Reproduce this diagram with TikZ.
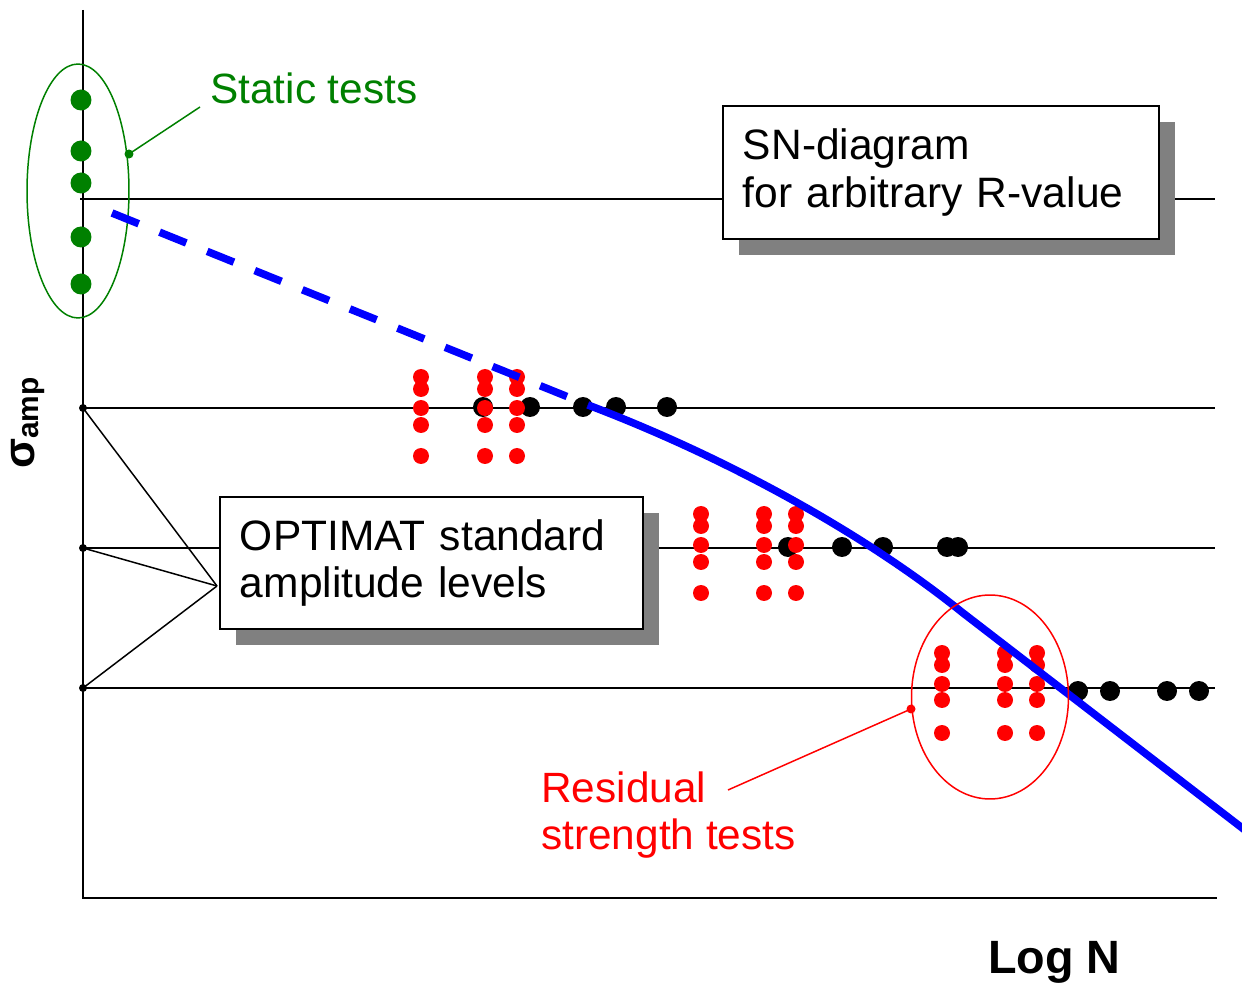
\documentclass[tikz,border=0pt]{standalone}
\usepackage{fontspec}
\setmainfont{Liberation Sans}
\usetikzlibrary{shadows}
\definecolor{sngreen}{RGB}{0,128,0}
\definecolor{shadowgray}{RGB}{128,128,128}

\tikzset{
  gridline/.style={line width=0.85pt},
  axisline/.style={line width=1.2pt},
  infobox/.style={draw, line width=1.1pt, fill=white, align=left, anchor=north west,
    inner xsep=0.4cm, font=\fontsize{24.2}{27.2}\selectfont,
    drop shadow={shadow xshift=0.32cm, shadow yshift=-0.33cm, fill=shadowgray, opacity=1}},
  note/.style={inner sep=0pt, font=\fontsize{24.1}{27.2}\selectfont},
  snline/.style={blue, line width=4.3pt}
}

\begin{document}
\begin{tikzpicture}[x=0.02cm, y=-0.02cm]
\useasboundingbox (0,0) rectangle (1242,986);

% axes
\coordinate (origin) at (83,898);
\draw[axisline] (83,10) -- (origin) -- (1217,898);

% amplitude levels
\coordinate (lvTop) at (80,199);
\coordinate (lvA) at (83,408);
\coordinate (lvB) at (83,548);
\coordinate (lvC) at (83,688);
\draw[gridline] (lvTop) -- (1215,199);
\foreach \lv in {A,B,C} {
  \draw[gridline] (lv\lv) -- ++(1132,0);
  \fill (lv\lv) circle (0.08cm);
}

% static tests
\foreach \gy in {100,151,183,237,284}
  \fill[sngreen] (81,\gy) circle (0.21cm);
\draw[sngreen, line width=0.85pt] (78,191) ellipse [x radius=1.02cm, y radius=2.54cm];
\node[note, text=sngreen, anchor=base west] (static) at (210,104) {Static tests};
\coordinate (gpt) at (129,154);
\coordinate (gend) at (200,107);
\fill[sngreen] (gpt) circle (0.09cm);
\draw[sngreen, line width=0.85pt] (gpt) -- (gend);

% fatigue results, level A
\foreach \cx in {483,530,583,616,667}
  \fill (\cx,407) circle (0.2cm);
\foreach \cx in {421,485,517}
  \foreach \cy in {377,389,408,425,456}
    \fill[red] (\cx,\cy) circle (0.16cm);

% fatigue results, level B
\foreach \cx in {788,842,883,947,958}
  \fill (\cx,547) circle (0.2cm);
\foreach \cx in {701,764,796}
  \foreach \cy in {514,526,545,562,593}
    \fill[red] (\cx,\cy) circle (0.16cm);

% fatigue results, level C
\foreach \cx in {1078,1110,1167,1199}
  \fill (\cx,691) circle (0.2cm);
\foreach \cx in {942,1005,1037}
  \foreach \cy in {653,665,684,700,733}
    \fill[red] (\cx,\cy) circle (0.16cm);

% SN curve
\coordinate (knee) at (588,405);
\coordinate (bend) at (963,613);
\draw[snline, dash pattern=on 16.4pt off 12.8pt] (112,213) -- (knee);
\draw[snline] (knee) .. controls (720,455) and (860,530) .. (bend) -- (1250,834);

% residual strength tests
\draw[red, line width=0.85pt] (990,697) ellipse [x radius=1.57cm, y radius=2.04cm];
\node[note, text=red, align=left, anchor=north west] (residual) at (541,771)
  {Residual\\strength tests};
\coordinate (rpt) at (911,709);
\coordinate (rend) at (728,790);
\fill[red] (rpt) circle (0.09cm);
\draw[red, line width=0.85pt] (rpt) -- (rend);

% boxes
\node[infobox, minimum width=8.72cm, text width=7.92cm, minimum height=2.66cm] (sn)
  at (722,105) {SN-diagram\\for arbitrary R-value};
\coordinate (tip) at (217,586);
\foreach \lv in {A,B,C}
  \draw[gridline] (lv\lv) -- (tip);
\node[infobox, minimum width=8.46cm, text width=7.66cm, minimum height=2.64cm] (optimat)
  at (219,496) {OPTIMAT standard\\amplitude levels};

% axis titles
\node[rotate=90, inner sep=0pt, font=\bfseries] (sigma) at (28,423)
  {\fontsize{25}{26}\selectfont σ\raisebox{-2.8pt}{\fontsize{17}{18}\selectfont amp}};
\node[inner sep=0pt, anchor=base west, font=\bfseries\fontsize{26.6}{28}\selectfont] (logn)
  at (988,973) {Log N};
\end{tikzpicture}
\end{document}
